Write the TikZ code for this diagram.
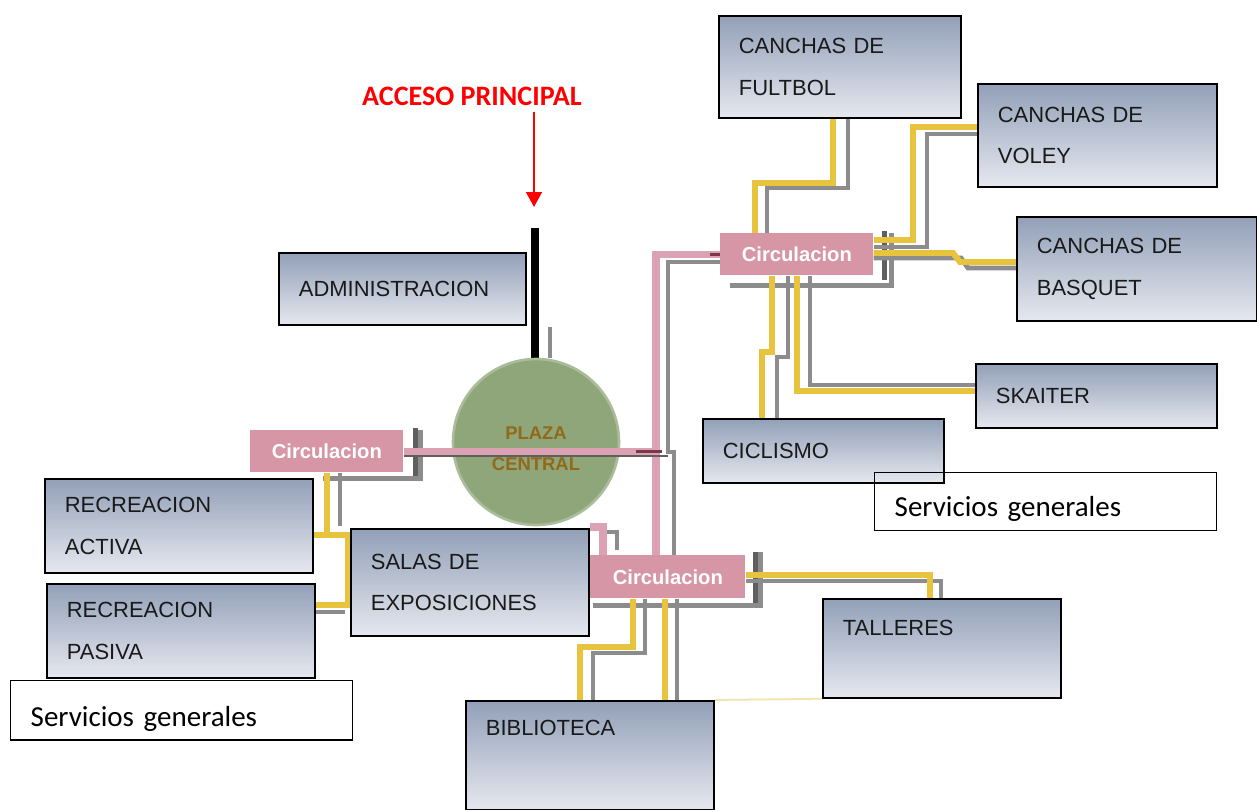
\documentclass[tikz,border=0pt]{standalone}
\usepackage{fontspec}
\setmainfont{Liberation Sans}
\newfontfamily\calibri{Carlito}
\usetikzlibrary{arrows.meta, backgrounds}

\definecolor{cajaarriba}{RGB}{146,160,184}
\definecolor{cajaabajo}{RGB}{230,232,239}
\definecolor{rosa}{RGB}{214,150,166}
\definecolor{rosalinea}{RGB}{218,162,178}
\definecolor{amarillo}{RGB}{232,196,62}
\definecolor{gris}{RGB}{140,140,140}
\definecolor{grisoscuro}{RGB}{95,95,95}
\definecolor{granate}{RGB}{125,55,75}
\definecolor{verdeplaza}{RGB}{143,166,122}
\definecolor{cafe}{RGB}{145,105,25}
\definecolor{hilo}{RGB}{240,228,170}

\begin{document}
\begin{tikzpicture}[x=0.02cm, y=-0.02cm,
  caja/.style={draw=black, line width=1pt, top color=cajaarriba, bottom color=cajaabajo,
    anchor=north west, inner xsep=0.4cm, align=left, text=black!90,
    font=\fontsize{12.5}{23.8}\selectfont},
  servicio/.style={draw=black, line width=0.8pt, anchor=north west, inner xsep=0.4cm,
    text width=6.04cm, align=left, text depth=4pt,
    font=\calibri\fontsize{16.5}{20}\selectfont},
  circula/.style={fill=rosa, text=white, anchor=north west, minimum width=3.06cm,
    minimum height=0.84cm, inner sep=0pt, font=\bfseries\fontsize{11.5}{14}\selectfont},
  lineaamarilla/.style={draw=amarillo, line width=3.4pt},
  lineagris/.style={draw=gris, line width=2.8pt},
  linearosa/.style={draw=rosalinea, line width=4pt},
  tope/.style={draw=grisoscuro, line width=3pt}]

\useasboundingbox (0,0) rectangle (1257,809);

% define the areas
  \node[caja, text width=4.04cm, minimum height=2.04cm] (futbol)   at (718,15)  {CANCHAS DE\\FULTBOL};
  \node[caja, text width=3.98cm, minimum height=2.06cm] (voley)    at (977,83)  {CANCHAS DE\\VOLEY};
  \node[caja, text width=4.00cm, minimum height=2.08cm] (basquet)  at (1016,216) {CANCHAS DE\\BASQUET};
  \node[caja, text width=4.02cm, minimum height=1.28cm] (skaiter)  at (975,363) {SKAITER};
  \node[caja, text width=4.02cm, minimum height=1.28cm] (ciclismo) at (702,418) {CICLISMO};
  \node[caja, text width=4.14cm, minimum height=1.44cm] (admin)    at (278,252) {ADMINISTRACION};
  \node[caja, text width=4.56cm, minimum height=1.88cm] (activa)   at (44,478)  {RECREACION\\ACTIVA};
  \node[caja, text width=4.56cm, minimum height=1.88cm] (pasiva)   at (46,583)  {RECREACION\\PASIVA};
  \node[caja, text width=3.96cm, minimum height=2.14cm] (salas)    at (350,528) {SALAS DE\\EXPOSICIONES};
  \node[caja, text width=3.96cm, minimum height=1.98cm] (talleres) at (822,598) {TALLERES\\\mbox{}};
  \node[caja, text width=4.16cm, minimum height=2.18cm] (biblio)   at (465,700) {BIBLIOTECA\\[8pt]\mbox{}};

  \node[servicio, text height=21pt, minimum height=1.16cm] (servder) at (874,472) {Servicios generales};
  \node[servicio, text height=23pt, minimum height=1.14cm] (servizq) at (10,680)  {Servicios generales};

% circulaciones and plaza
  \node[circula] (cup)  at (720,233) {Circulacion};
  \node[circula] (circl) at (250,430) {Circulacion};
  \node[circula, minimum width=3.1cm, minimum height=0.86cm] (clow) at (590,555) {Circulacion};

  \node[circle, fill=verdeplaza, draw=verdeplaza!75!white, line width=1.5pt,
    minimum size=3.32cm, inner sep=0pt, text=cafe, align=center, text height=32pt,
    font=\bfseries\fontsize{10.5}{17.6}\selectfont] (plaza) at (536,442) {PLAZA\\CENTRAL};

% acceso
  \node[text=red, font=\calibri\bfseries\fontsize{16}{19}\selectfont] (acceso) at (472,96) {ACCESO PRINCIPAL};
  \coordinate (flecha)  at (534,207);
  \coordinate (entrada) at (535,228);
  \draw[red, line width=1.1pt, -{Triangle[length=8.5pt, width=9pt]}] (acceso.south -| flecha) -- (flecha);

% define the links
\begin{scope}[on background layer]
  % upper circulation
  \draw[tope] ([shift={(11,-2)}]cup.north east) -- ([shift={(11,4)}]cup.south east);
  \draw[lineagris] ([shift={(10,10)}]cup.south west) -| ([shift={(18,0)}]cup.north east);
  \draw[lineagris] (848,0 |- futbol.south) |- (767,188) -- (767,0 |- cup.north);
  \draw[lineaamarilla] (833,0 |- futbol.south) |- (755,183) -- (755,0 |- cup.north);
  \draw[lineagris] (voley.west |- 0,134) -| (927,247) -- (cup.east |- 0,247);
  \draw[lineaamarilla] (voley.west |- 0,127) -| (913,240) -- (cup.east |- 0,240);
  \draw[lineagris] (basquet.west |- 0,268) -- (968,268) -- (961,258) -- (cup.east |- 0,258);
  \draw[lineaamarilla] (basquet.west |- 0,262) -- (960,262) -- (953,253) -- (cup.east |- 0,253);
  \draw[lineagris] (skaiter.west |- 0,385) -| (810,0 |- cup.south);
  \draw[lineaamarilla] (skaiter.west |- 0,391) -| (797,0 |- cup.south);
  \draw[lineagris] (777,0 |- ciclismo.north) |- (788,357) -- (788,0 |- cup.south);
  \draw[lineaamarilla] (762,0 |- ciclismo.north) |- (772,352) -- (772,0 |- cup.south);

  % upper to lower circulation
  \draw[lineagris] (cup.west |- 0,262) -| (668,452) -| (674,0 |- clow.north);
  \draw[linearosa] (cup.west) -| (656,0 |- clow.north);
  \draw[granate, line width=1.5pt] (cup.west) -- ++(-10,0);

  % left circulation
  \draw[tope] ([shift={(12,-2)}]circl.north east) -- ([shift={(12,6)}]circl.south east);
  \draw[lineagris] ([shift={(73,6)}]circl.south west) -| ([shift={(17,0)}]circl.north east);
  \draw[lineagris] (340,0 |- circl.south) -- (340,0 |- activa.east);
  \draw[lineaamarilla] (327,0 |- circl.south) |- (activa.east |- 0,535);
  \draw[lineagris] (pasiva.east |- 0,612) -- (345,612);
  \draw[lineaamarilla] (pasiva.east |- 0,605) -| (348,535) -- (activa.east |- 0,535);
  \draw[granate, line width=1.5pt] (circl.west) -- ++(10,0);

  % lower circulation
  \draw[tope] ([shift={(10,-3)}]clow.north east) -- ([shift={(10,7)}]clow.south east);
  \draw[lineagris] ([shift={(3,7)}]clow.south west) -| ([shift={(15,-3)}]clow.north east);
  \draw[linearosa] (salas.north east |- 0,527) -| (603,0 |- clow.north);
  \draw[lineagris, line width=2pt] ([shift={(17,-23)}]clow.north west) -| ([shift={(27,-5)}]clow.north west);
  \draw[granate, line width=1.5pt] ([shift={(22,2)}]clow.north west) -- ([shift={(83,2)}]clow.north west);
  \draw[lineagris] (clow.east |- 0,581) -| (941,0 |- talleres.north);
  \draw[lineaamarilla] (clow.east |- 0,575) -| (930,0 |- talleres.north);
  \draw[lineagris] (645,0 |- clow.south) |- (593,653) -- (593,0 |- biblio.north);
  \draw[lineaamarilla] (633,0 |- clow.south) |- (580,647) -- (580,0 |- biblio.north);
  \draw[lineagris] (677,0 |- clow.south) -- (677,0 |- biblio.north);
  \draw[lineaamarilla] (665,0 |- clow.south) -- (665,0 |- biblio.north);
  \draw[hilo, line width=1pt] (biblio.north east) -- (talleres.south west);

  % entrance
  \draw[line width=4.5pt] (entrada) -- (entrada |- plaza.north);
  \draw[draw=gris, line width=1.8pt] (550,327) -- (550,0 |- plaza.north);
\end{scope}

% across the plaza
  \draw[draw=grisoscuro, line width=1.5pt] (circl.east |- 0,456) -- (668,456);
  \draw[linearosa] (circl.east) -- (656,0 |- circl.east);
  \draw[granate, line width=1.5pt] (636,0 |- circl.east) -- (662,0 |- circl.east);

\end{tikzpicture}
\end{document}
